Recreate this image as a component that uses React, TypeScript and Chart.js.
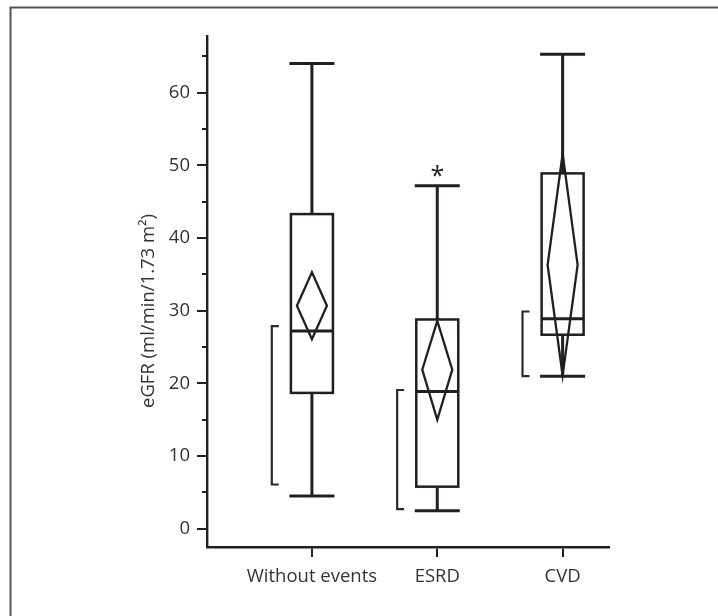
import React, { useEffect, useRef } from 'react';
import { Chart, registerables } from 'chart.js';
Chart.register(...registerables);

const categories = ['Without events', 'ESRD', 'CVD'];
const catPositions = [1, 2, 3];
const whiskerLow = [4.5, 2.5, 21.0];
const q1 = [18.7, 5.8, 26.7];
const median = [27.2, 18.9, 28.9];
const q3 = [43.3, 28.8, 48.9];
const whiskerHigh = [64.0, 47.2, 65.3];
const meanVals = [30.7, 21.9, 36.3];
const ciLow = [26.1, 15.0, 21.1];
const ciHigh = [35.3, 28.6, 51.6];
const bracketLow = [6.1, 2.7, 21.0];
const bracketHigh = [27.9, 19.1, 29.9];
const markers = ['', '*', ''];
const yMajorTicks = [0, 10, 20, 30, 40, 50, 60];
const yMinorTicks = [5, 15, 25, 35, 45, 55, 65];
const yTitle = 'eGFR (ml/min/1.73 m²)';

const INK = '#231f20';
const TEXT = '#333333';
const FONT = '"Open Sans", "Noto Sans", sans-serif';

const BOX_W = 42;
const CAP_W = 45;
const DIAMOND_HALF = 15;
const BRACKET_OFFSET = 0.32; // in x units, left of centre
const BRACKET_TICK = 7;

const boxPlugin = {
  id: 'boxPlugin',
  beforeDraw(chart: any) {
    const { ctx } = chart;
    ctx.save();
    ctx.strokeStyle = '#555555';
    ctx.lineWidth = 2;
    ctx.beginPath();
    ctx.moveTo(10.5, chart.height);
    ctx.lineTo(10.5, 7.5);
    ctx.lineTo(chart.width, 7.5);
    ctx.stroke();
    ctx.restore();
  },
  afterDraw(chart: any) {
    const { ctx, chartArea } = chart;
    const xs = chart.scales.x;
    const ys = chart.scales.y;
    ctx.save();
    ctx.strokeStyle = INK;
    ctx.lineCap = 'butt';

    // minor y ticks
    ctx.lineWidth = 2;
    yMinorTicks.forEach((v) => {
      const y = Math.round(ys.getPixelForValue(v));
      ctx.beginPath();
      ctx.moveTo(chartArea.left - 5, y);
      ctx.lineTo(chartArea.left, y);
      ctx.stroke();
    });

    catPositions.forEach((pos, i) => {
      const cx = xs.getPixelForValue(pos);
      const yWL = ys.getPixelForValue(whiskerLow[i]);
      const yQ1 = ys.getPixelForValue(q1[i]);
      const yMed = ys.getPixelForValue(median[i]);
      const yQ3 = ys.getPixelForValue(q3[i]);
      const yWH = ys.getPixelForValue(whiskerHigh[i]);

      // whiskers
      ctx.lineWidth = 3;
      ctx.beginPath();
      ctx.moveTo(cx, yWH);
      ctx.lineTo(cx, yQ3);
      ctx.moveTo(cx, yQ1);
      ctx.lineTo(cx, yWL);
      ctx.stroke();
      ctx.beginPath();
      ctx.moveTo(cx - CAP_W / 2, yWH);
      ctx.lineTo(cx + CAP_W / 2, yWH);
      ctx.moveTo(cx - CAP_W / 2, yWL);
      ctx.lineTo(cx + CAP_W / 2, yWL);
      ctx.stroke();

      // box
      ctx.lineWidth = 2.5;
      ctx.strokeRect(cx - BOX_W / 2, yQ3, BOX_W, yQ1 - yQ3);
      // median
      ctx.lineWidth = 3;
      ctx.beginPath();
      ctx.moveTo(cx - BOX_W / 2, yMed);
      ctx.lineTo(cx + BOX_W / 2, yMed);
      ctx.stroke();

      // diamond
      const yMean = ys.getPixelForValue(meanVals[i]);
      const yCL = ys.getPixelForValue(ciLow[i]);
      const yCH = ys.getPixelForValue(ciHigh[i]);
      ctx.lineWidth = 2.3;
      ctx.lineJoin = 'miter';
      ctx.beginPath();
      ctx.moveTo(cx, yCH);
      ctx.lineTo(cx + DIAMOND_HALF, yMean);
      ctx.lineTo(cx, yCL);
      ctx.lineTo(cx - DIAMOND_HALF, yMean);
      ctx.closePath();
      ctx.stroke();

      // bracket
      const bx = xs.getPixelForValue(pos - BRACKET_OFFSET);
      const yBL = ys.getPixelForValue(bracketLow[i]);
      const yBH = ys.getPixelForValue(bracketHigh[i]);
      ctx.lineWidth = 2.2;
      ctx.strokeStyle = '#2b2b2b';
      ctx.beginPath();
      ctx.moveTo(bx + BRACKET_TICK, yBH);
      ctx.lineTo(bx, yBH);
      ctx.lineTo(bx, yBL);
      ctx.lineTo(bx + BRACKET_TICK, yBL);
      ctx.stroke();
      ctx.strokeStyle = INK;

      // marker
      if (markers[i]) {
        ctx.fillStyle = INK;
        ctx.font = `25px ${FONT}`;
        ctx.textAlign = 'center';
        ctx.textBaseline = 'alphabetic';
        ctx.fillText(markers[i], cx, yWH - 2);
      }
    });

    // y title
    ctx.fillStyle = TEXT;
    ctx.font = `18.5px ${FONT}`;
    ctx.textAlign = 'center';
    ctx.textBaseline = 'middle';
    ctx.translate(149, 311);
    ctx.rotate(-Math.PI / 2);
    ctx.fillText(yTitle, 0, 0);
    ctx.restore();
  },
};

export default function App() {
  const ref = useRef<HTMLCanvasElement | null>(null);
  useEffect(() => {
    document.body.style.margin = '0';
    const canvas = ref.current!;
    const chart = new Chart(canvas, {
      type: 'scatter',
      data: {
        datasets: [
          {
            data: catPositions.map((x, i) => ({ x, y: median[i] })),
            pointRadius: 0,
            showLine: false,
          },
        ],
      },
      options: {
        animation: false,
        responsive: false,
        devicePixelRatio: 1,
        layout: { padding: { top: 36, right: 109, left: 0, bottom: 0 } },
        plugins: { legend: { display: false }, tooltip: { enabled: false } },
        scales: {
          x: {
            type: 'linear',
            min: 0.163,
            max: 3.37,
            afterBuildTicks: (s: any) => {
              s.ticks = catPositions.map((v) => ({ value: v }));
            },
            afterFit: (s: any) => {
              s.height = 69;
            },
            ticks: {
              autoSkip: false,
              maxRotation: 0,
              padding: 9,
              color: TEXT,
              font: { family: FONT, size: 18.5 },
              callback: (v: any) => {
                const idx = catPositions.indexOf(Number(v));
                return idx >= 0 ? categories[idx] : '';
              },
            },
            grid: {
              drawOnChartArea: false,
              drawTicks: true,
              tickLength: 10,
              color: INK,
              lineWidth: 2,
            },
            border: { display: true, color: INK, width: 2.4 },
          },
          y: {
            type: 'linear',
            min: -2.5,
            max: 67.8,
            afterBuildTicks: (s: any) => {
              s.ticks = yMajorTicks.map((v) => ({ value: v }));
            },
            afterFit: (s: any) => {
              s.width = 207;
            },
            ticks: {
              padding: 7,
              color: TEXT,
              font: { family: FONT, size: 18.5 },
            },
            grid: {
              drawOnChartArea: false,
              drawTicks: true,
              tickLength: 10,
              color: INK,
              lineWidth: 2,
            },
            border: { display: true, color: INK, width: 2.4 },
          },
        },
      },
      plugins: [boxPlugin],
    });
    return () => chart.destroy();
  }, []);
  return <canvas ref={ref} width={718} height={616} style={{ display: 'block' }} />;
}
